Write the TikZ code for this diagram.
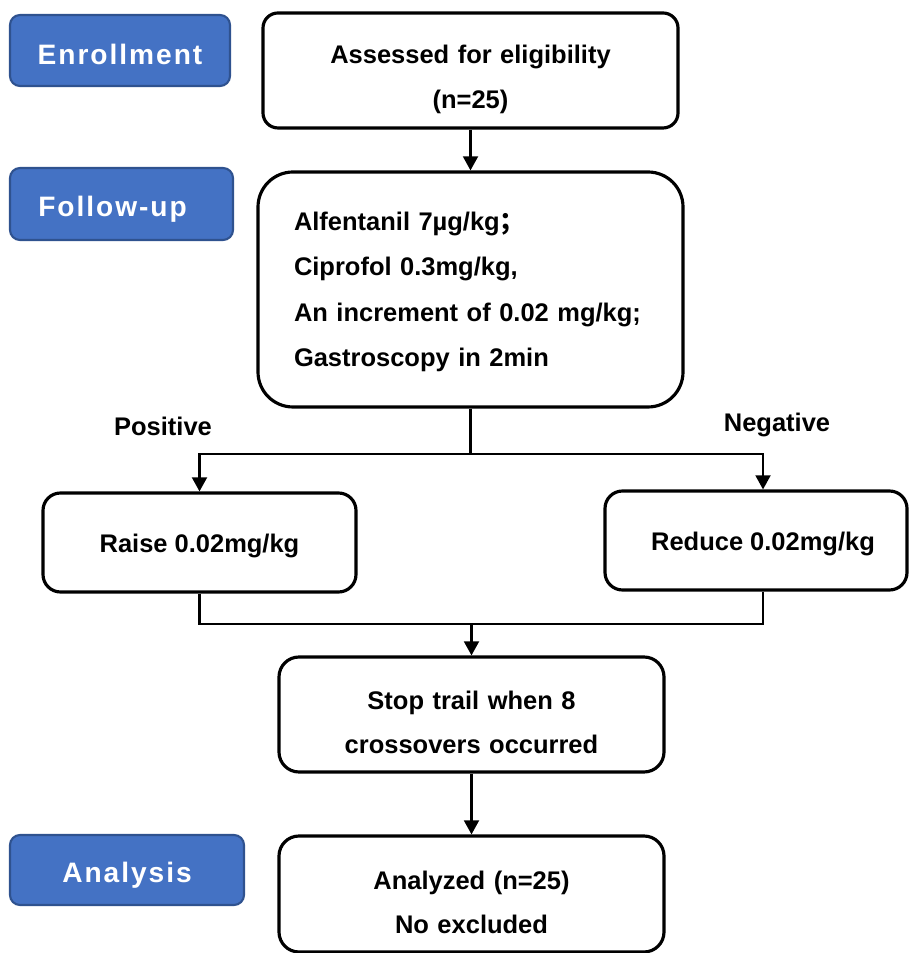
\documentclass[tikz,border=0pt]{standalone}
\usepackage{fontspec}
\setmainfont{Liberation Sans}
\newfontfamily\tagfont[LetterSpace=7]{Liberation Sans}
\newfontfamily\cjk{Noto Sans CJK SC}
\usetikzlibrary{arrows.meta,calc}
\definecolor{tagblue}{RGB}{68,114,196}
\definecolor{tagedge}{RGB}{47,82,143}

\begin{document}
\begin{tikzpicture}[
	tag/.style={draw=tagedge,fill=tagblue,line width=1.2pt,rounded corners=0.2cm,text=white,font=\tagfont\fontsize{16}{19}\selectfont\bfseries,inner sep=0pt},
	stepbox/.style={draw,line width=1.8pt,align=center,font=\fontsize{14.5}{25.3}\selectfont\bfseries,inner sep=0pt},
	drop/.style={execute at begin node={\rule{0pt}{#1}}},
	link/.style={line width=1.2pt},
	>={Triangle[length=8pt,width=8.5pt]}]
	
	\useasboundingbox (0,0) rectangle (18.18,19.06);
	
	%stage tags
	\node[tag,drop=16pt,minimum width=4.4cm,minimum height=1.42cm]  (enrol)  at (2.40,18.05) {Enrollment};
	\node[tag,drop=18pt,minimum width=4.46cm,minimum height=1.44cm] (follow) at (2.43,14.98) {Follow-up\hspace*{0.36cm}};
	\node[tag,drop=18pt,minimum width=4.68cm,minimum height=1.4cm]  (anal)   at (2.54,1.66)  {Analysis};
	
	%boxes
	\node[stepbox,drop=20.5pt,text width=8cm,rounded corners=0.3cm,minimum width=8.3cm,minimum height=2.3cm] (assess) at (9.41,17.65) {Assessed for eligibility\\(n=25)};
	\node[stepbox,drop=13.5pt,rounded corners=0.7cm,minimum width=8.5cm,minimum height=4.7cm,align=left,text width=7.06cm,
		font=\fontsize{14.5}{25.9}\selectfont\bfseries] (dose) at (9.41,13.27)
		{Alfentanil 7µg/kg{\cjk ；}\\Ciprofol 0.3mg/kg,\\An increment of 0.02 mg/kg;\\Gastroscopy in 2min};
	\node[stepbox,drop=15pt,rounded corners=0.35cm,minimum width=6.26cm,minimum height=1.98cm] (raise)  at (3.99,8.21)  {Raise 0.02mg/kg};
	\node[stepbox,drop=15pt,rounded corners=0.35cm,minimum width=6.04cm,minimum height=1.98cm] (reduce) at (15.12,8.25) {\hspace*{0.28cm}Reduce 0.02mg/kg};
	\node[stepbox,drop=19.5pt,text width=7.4cm,rounded corners=0.4cm,minimum width=7.7cm,minimum height=2.3cm]  (stop)   at (9.43,4.77)  {Stop trail when 8\\crossovers occurred};
	\node[stepbox,drop=20pt,text width=7.4cm,rounded corners=0.4cm,minimum width=7.7cm,minimum height=2.32cm]   (result) at (9.43,1.18)  {Analyzed (n=25)\\No excluded};
	
	%branch labels
	\node[font=\fontsize{14.5}{17}\selectfont\bfseries] (pos) at (3.26,10.54) {Positive};
	\node[font=\fontsize{14.5}{17}\selectfont\bfseries] (neg) at (15.54,10.56) {Negative};
	
	%connectors
	\coordinate (split)  at ($(dose.south)+(0,-0.9)$);
	\coordinate (negin)  at ([xshift=0.14cm]reduce.north);
	\coordinate (negout) at ([xshift=0.14cm]reduce.south);
	\coordinate (merge)  at ([yshift=-0.6cm]raise.south -| stop.north);
	\draw[link,->] (assess) -- (dose);
	\draw[link,->] (dose.south) -- (split) -| (raise.north);
	\draw[link,->] (split) -| (negin);
	\draw[link] (raise.south) |- (merge);
	\draw[link] (negout) |- (merge);
	\draw[link,->] (merge) -- (stop.north);
	\draw[link,->] (stop) -- (result);
\end{tikzpicture}
\end{document}
